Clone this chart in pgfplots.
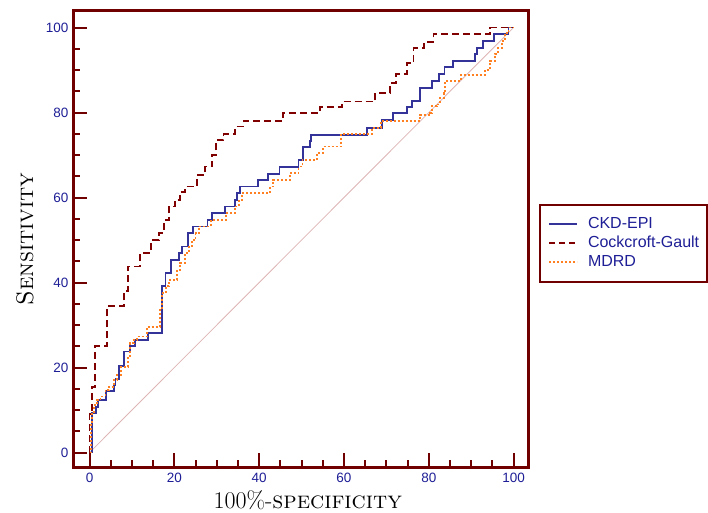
\documentclass[border=0pt]{standalone}
\usepackage{fontspec}
\usepackage{pgfplots}
\pgfplotsset{compat=1.18}
\newfontfamily\arialfont{Liberation Sans}
\definecolor{framered}{RGB}{112,0,0}
\definecolor{cgred}{RGB}{128,0,0}
\definecolor{ckdblue}{RGB}{51,51,153}
\definecolor{mdrdorange}{RGB}{255,128,32}
\definecolor{tickblue}{RGB}{30,30,150}
\definecolor{diagpink}{RGB}{222,180,180}

\begin{document}
\begin{tikzpicture}
\path[use as bounding box] (0,0) rectangle (708pt,512pt);
\begin{axis}[
  at={(73pt,45pt)}, anchor=south west,
  width=455pt, height=456pt, scale only axis,
  xmin=-3.9, xmax=103.4, ymin=-3.4, ymax=103.9,
  xtick={0,20,...,100}, ytick={0,20,...,100},
  minor tick num=3,
  tick align=inside, xtick pos=bottom, ytick pos=left,
  major tick length=14pt, minor tick length=7pt,
  tick style={draw=framered, line width=2pt},
  axis line style={draw=framered, line width=3pt},
  /pgf/number format/assume math mode=true,
  tick label style={font=\arialfont\fontsize{13.5pt}{16pt}\selectfont, text=tickblue},
  xticklabel style={yshift=-3pt},
  yticklabel style={xshift=-1pt},
  xlabel={\fontsize{24pt}{28pt}\selectfont 100\%-\textsc{specificity}},
  ylabel={\fontsize{24pt}{28pt}\selectfont \textsc{Sensitivity}},
  every axis x label/.style={at={(axis description cs:0.516,-0.072)}, anchor=center},
  every axis y label/.style={at={(axis description cs:-0.1055,0.5)}, rotate=90, anchor=center},
  legend style={at={(1.0242,0.5768)}, anchor=north west, draw=framered, line width=2pt,
    font=\arialfont\fontsize{16pt}{19pt}\selectfont, text=tickblue,
    inner xsep=8pt, inner ysep=10pt, row sep=0pt, column sep=10pt,
    nodes={inner sep=0pt, text height=14pt, text depth=5pt, anchor=west}},
  legend cell align=left,
  legend image code/.code={\draw[#1] (0pt,0pt) -- (28pt,0pt);},
]
% legend samples
\addlegendimage{draw=ckdblue, line width=2pt}
\addlegendentry{CKD-EPI}
\addlegendimage{draw=cgred, line width=2pt, dash pattern=on 6pt off 4pt}
\addlegendentry{Cockcroft-Gault}
\addlegendimage{draw=mdrdorange, line width=2pt, dash pattern=on 2pt off 2pt}
\addlegendentry{MDRD}
% chance line
\addplot[draw=diagpink, line width=0.8pt, forget plot] coordinates {(0,0) (100,100)};
% CKD-EPI
\addplot[draw=ckdblue, line width=1.8pt, forget plot] coordinates {
(0,0) (0.6,0) (0.6,9.3) (1.6,9.3) (1.6,10.8) (2,10.8) (2,12.4) (3.9,12.4) (3.9,14.4)
(5.8,14.4) (5.8,15.9) (6.1,15.9) (6.1,17.3) (6.9,17.3) (6.9,20.4) (8.1,20.4) (8.1,23.8)
(9.6,23.8) (9.6,25.1) (10.8,25.1) (10.8,26.5) (13.7,26.5) (13.7,28.1) (17.1,28.1)
(17.1,39.1) (17.9,39.1) (17.9,42.2) (19.3,42.2) (19.3,45.3) (21.1,45.3) (21.1,46.9)
(21.8,46.9) (21.8,48.5) (23.3,48.5) (23.3,51.6) (24.4,51.6) (24.4,53.2) (27.8,53.2)
(27.8,54.8) (28.8,54.8) (28.8,56.3) (32.0,56.3) (32.0,57.9) (34.3,57.9) (34.3,59.5)
(34.7,59.5) (34.7,61.0) (35.4,61.0) (35.4,62.6) (39.8,62.6) (39.8,64.2) (42.0,64.2)
(42.0,65.6) (44.8,65.6) (44.8,67.2) (49.3,67.2) (49.3,68.9) (50.3,68.9) (50.3,71.9)
(51.9,71.9) (51.9,73.4) (52.2,73.4) (52.2,74.8) (65.4,74.8) (65.4,76.3) (68.9,76.3)
(68.9,78.3) (71.5,78.3) (71.5,79.9) (74.8,79.9) (74.8,81.4) (76.0,81.4) (76.0,82.8)
(77.9,82.8) (77.9,85.8) (80.7,85.8) (80.7,87.5) (82.5,87.5) (82.5,89.1) (83.7,89.1)
(83.7,90.7) (85.8,90.7) (85.8,92.2) (90.9,92.2) (90.9,93.8) (91.3,93.8) (91.3,95.2)
(92.8,95.2) (92.8,96.8) (95.3,96.8) (95.3,98.5) (98.8,98.5) (98.8,100) (100,100)
};
% Cockcroft-Gault
\addplot[draw=cgred, line width=1.8pt, dash pattern=on 7pt off 4pt, forget plot] coordinates {
(0,0) (0,9) (0.6,9) (0.6,15.5) (1.2,15.5) (1.2,25) (4.2,25) (4.2,34.5) (8.2,34.5)
(8.2,38) (9,38) (9,43.8) (11.9,43.8) (11.9,47) (14.5,47) (14.5,50) (16.3,50) (16.3,51.7)
(17.5,51.7) (17.5,54.7) (18.8,54.7) (18.8,57.9) (20.2,57.9) (20.2,59.5) (21.4,59.5)
(21.4,61.4) (22.5,61.4) (22.5,62.6) (25.3,62.6) (25.3,65.3) (27.3,65.3) (27.3,67.3)
(28.8,67.3) (28.8,70) (29.9,70) (29.9,73.6) (31.6,73.6) (31.6,75) (34.3,75) (34.3,76.7)
(36.3,76.7) (36.3,78) (45.6,78) (45.6,79.9) (54.4,79.9) (54.4,81.4) (59.5,81.4)
(59.5,82.6) (67.4,82.6) (67.4,84.6) (70.9,84.6) (70.9,86.9) (72.3,86.9) (72.3,89.1)
(74.8,89.1) (74.8,91.6) (76.4,91.6) (76.4,95.2) (78.8,95.2) (78.8,96.6) (81.1,96.6)
(81.1,98.5) (94.5,98.5) (94.5,100) (100,100)
};
% MDRD
\addplot[draw=mdrdorange, line width=1.8pt, dash pattern=on 2pt off 2pt, forget plot] coordinates {
(0,0) (0.4,0) (0.4,6.9) (0.6,6.9) (0.6,9.3) (1.0,9.3) (1.0,11.2) (1.8,11.2) (1.8,12.4)
(2.6,12.4) (2.6,13.2) (3.75,13.2) (3.75,14.8) (4.5,14.8) (4.5,15.5) (5.7,15.5) (5.7,17.1)
(6.5,17.1) (6.5,18.3) (7.5,18.3) (7.5,20.2) (9.1,20.2) (9.1,22.6) (9.6,22.6) (9.6,25.7)
(10.4,25.7) (10.4,26.5) (11.2,26.5) (11.2,27.3) (13.6,27.3) (13.6,29.6) (16.7,29.6)
(16.7,33.6) (17.1,33.6) (17.1,37.5) (18.0,37.5) (18.0,39.1) (18.7,39.1) (18.7,40.6)
(20.7,40.6) (20.7,43) (21.4,43) (21.4,44.6) (22.6,44.6) (22.6,46.9) (23.4,46.9)
(23.4,48.5) (24.2,48.5) (24.2,50) (25,50) (25,51.6) (25.8,51.6) (25.8,53.2) (28.7,53.2)
(28.7,54.7) (32.1,54.7) (32.1,56.3) (34.3,56.3) (34.3,57.9) (35.3,57.9) (35.3,59.4)
(36.0,59.4) (36.0,61) (42.6,61) (42.6,62.6) (43.3,62.6) (43.3,64.1) (47.3,64.1)
(47.3,65.7) (49.3,65.7) (49.3,67.3) (50.2,67.3) (50.2,68.8) (53.6,68.8) (53.6,70.4)
(55.0,70.4) (55.0,72) (59.3,72) (59.3,75) (66.6,75) (66.6,76.3) (68.8,76.3) (68.8,78.1)
(78,78.1) (78,79.5) (80.3,79.5) (80.3,79.9) (80.7,79.9) (80.7,81.5) (81.9,81.5)
(81.9,81.9) (82.7,81.9) (82.7,83.5) (83.5,83.5) (83.5,84.6) (83.9,84.6) (83.9,87.4)
(87.6,87.4) (87.6,88.9) (93.2,88.9) (93.2,90.1) (94.5,90.1) (94.5,92.1) (95.7,92.1)
(95.7,93.7) (96.4,93.7) (96.4,95.2) (97.2,95.2) (97.2,96.8) (98,96.8) (98,98.8)
(98.8,98.8) (98.8,100) (100,100)
};
\end{axis}
\end{tikzpicture}
\end{document}
